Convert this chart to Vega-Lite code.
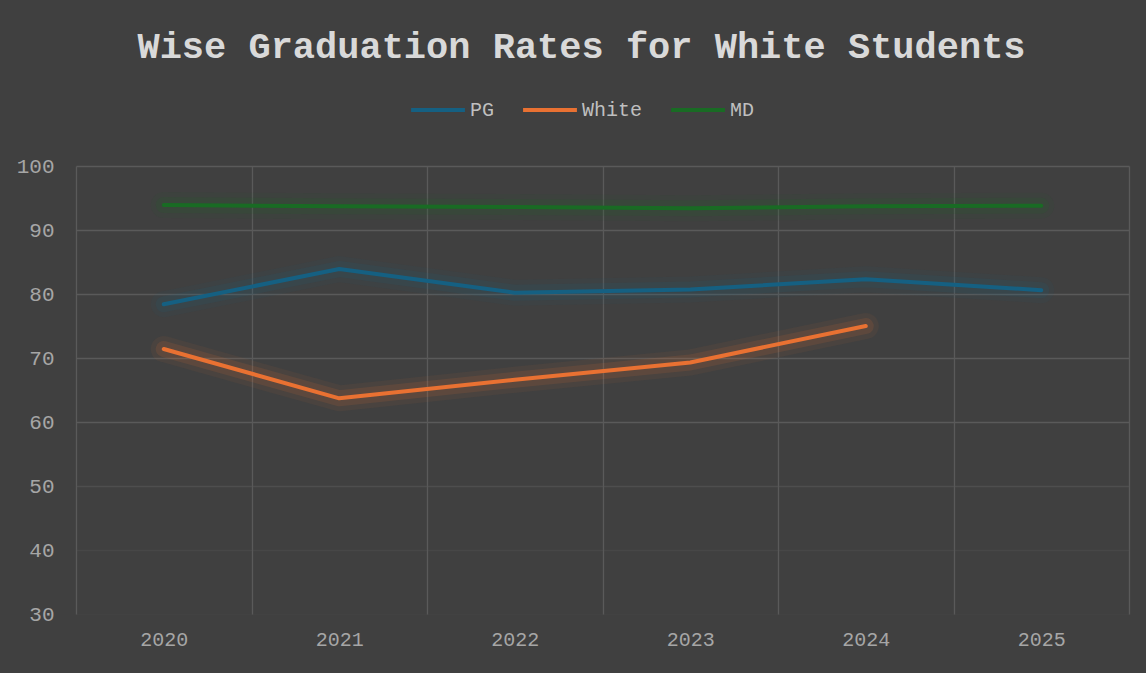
{
  "$schema": "https://vega.github.io/schema/vega-lite/v6.json",
  "width": 1053,
  "height": 448,
  "autosize": "none",
  "padding": {"left": 76, "top": 166, "right": 17, "bottom": 59},
  "background": "#404040",
  "title": {
    "text": "Wise Graduation Rates for White Students",
    "font": "Liberation Mono",
    "fontWeight": "bold",
    "fontSize": 37,
    "color": "#d9d9d9",
    "anchor": "middle",
    "dx": -21,
    "offset": 15
  },
  "data": {
    "values": [
      {"year": "2020", "series": "PG", "value": 78.4},
      {"year": "2021", "series": "PG", "value": 83.9},
      {"year": "2022", "series": "PG", "value": 80.2},
      {"year": "2023", "series": "PG", "value": 80.7},
      {"year": "2024", "series": "PG", "value": 82.3},
      {"year": "2025", "series": "PG", "value": 80.6},
      {"year": "2020", "series": "White", "value": 71.4},
      {"year": "2021", "series": "White", "value": 63.7},
      {"year": "2022", "series": "White", "value": 66.6},
      {"year": "2023", "series": "White", "value": 69.3},
      {"year": "2024", "series": "White", "value": 75.0},
      {"year": "2020", "series": "MD", "value": 93.9},
      {"year": "2021", "series": "MD", "value": 93.7},
      {"year": "2022", "series": "MD", "value": 93.6},
      {"year": "2023", "series": "MD", "value": 93.4},
      {"year": "2024", "series": "MD", "value": 93.7},
      {"year": "2025", "series": "MD", "value": 93.8}
    ]
  },
  "encoding": {
    "x": {
      "field": "year",
      "type": "ordinal",
      "scale": {"type": "band", "paddingInner": 0, "paddingOuter": 0},
      "axis": {
        "title": null,
        "labelAngle": 0,
        "tickBand": "extent",
        "grid": true,
        "gridColor": "#5a5a5a",
        "gridWidth": 1.3,
        "domain": false,
        "ticks": false,
        "labelFont": "Liberation Mono",
        "labelFontSize": 20,
        "labelColor": "#a6a6a6",
        "labelPadding": 15
      }
    },
    "y": {
      "field": "value",
      "type": "quantitative",
      "scale": {"domain": [30, 100], "nice": false, "zero": false},
      "axis": {
        "title": null,
        "values": [30, 40, 50, 60, 70, 80, 90, 100],
        "grid": true,
        "gridColor": "#5a5a5a",
        "gridWidth": 1.3,
        "gridOpacity": {"condition": [
          {"test": "datum.value <= 30", "value": 0.1},
          {"test": "datum.value <= 40", "value": 0.3},
          {"test": "datum.value <= 50", "value": 0.55}
        ], "value": 1},
        "domain": false,
        "ticks": false,
        "labelFont": "Liberation Mono",
        "labelFontSize": 21,
        "labelColor": "#a6a6a6",
        "labelPadding": 22
      }
    },
    "color": {
      "field": "series",
      "type": "nominal",
      "scale": {"domain": ["PG", "White", "MD"], "range": ["#156082", "#E97132", "#196B24"]},
      "legend": {
        "title": null,
        "orient": "none",
        "direction": "horizontal",
        "legendX": 333,
        "legendY": -85,
        "symbolType": "stroke",
        "symbolSize": 2900,
        "symbolStrokeWidth": 4,
        "symbolOpacity": 1,
        "labelFont": "Liberation Mono",
        "labelFontSize": 20,
        "labelColor": "#bfbfbf",
        "labelOffset": 3,
        "columnPadding": 20
      }
    }
  },
  "layer": [
    {"mark": {"type": "line", "strokeWidth": 26, "opacity": 0.06, "strokeCap": "round", "strokeJoin": "round"}},
    {"mark": {"type": "line", "strokeWidth": 16, "opacity": 0.12, "strokeCap": "round", "strokeJoin": "round"}},
    {"mark": {"type": "line", "strokeWidth": 4, "strokeCap": "round", "strokeJoin": "round"}}
  ],
  "config": {
    "view": {"stroke": null}
  }
}
